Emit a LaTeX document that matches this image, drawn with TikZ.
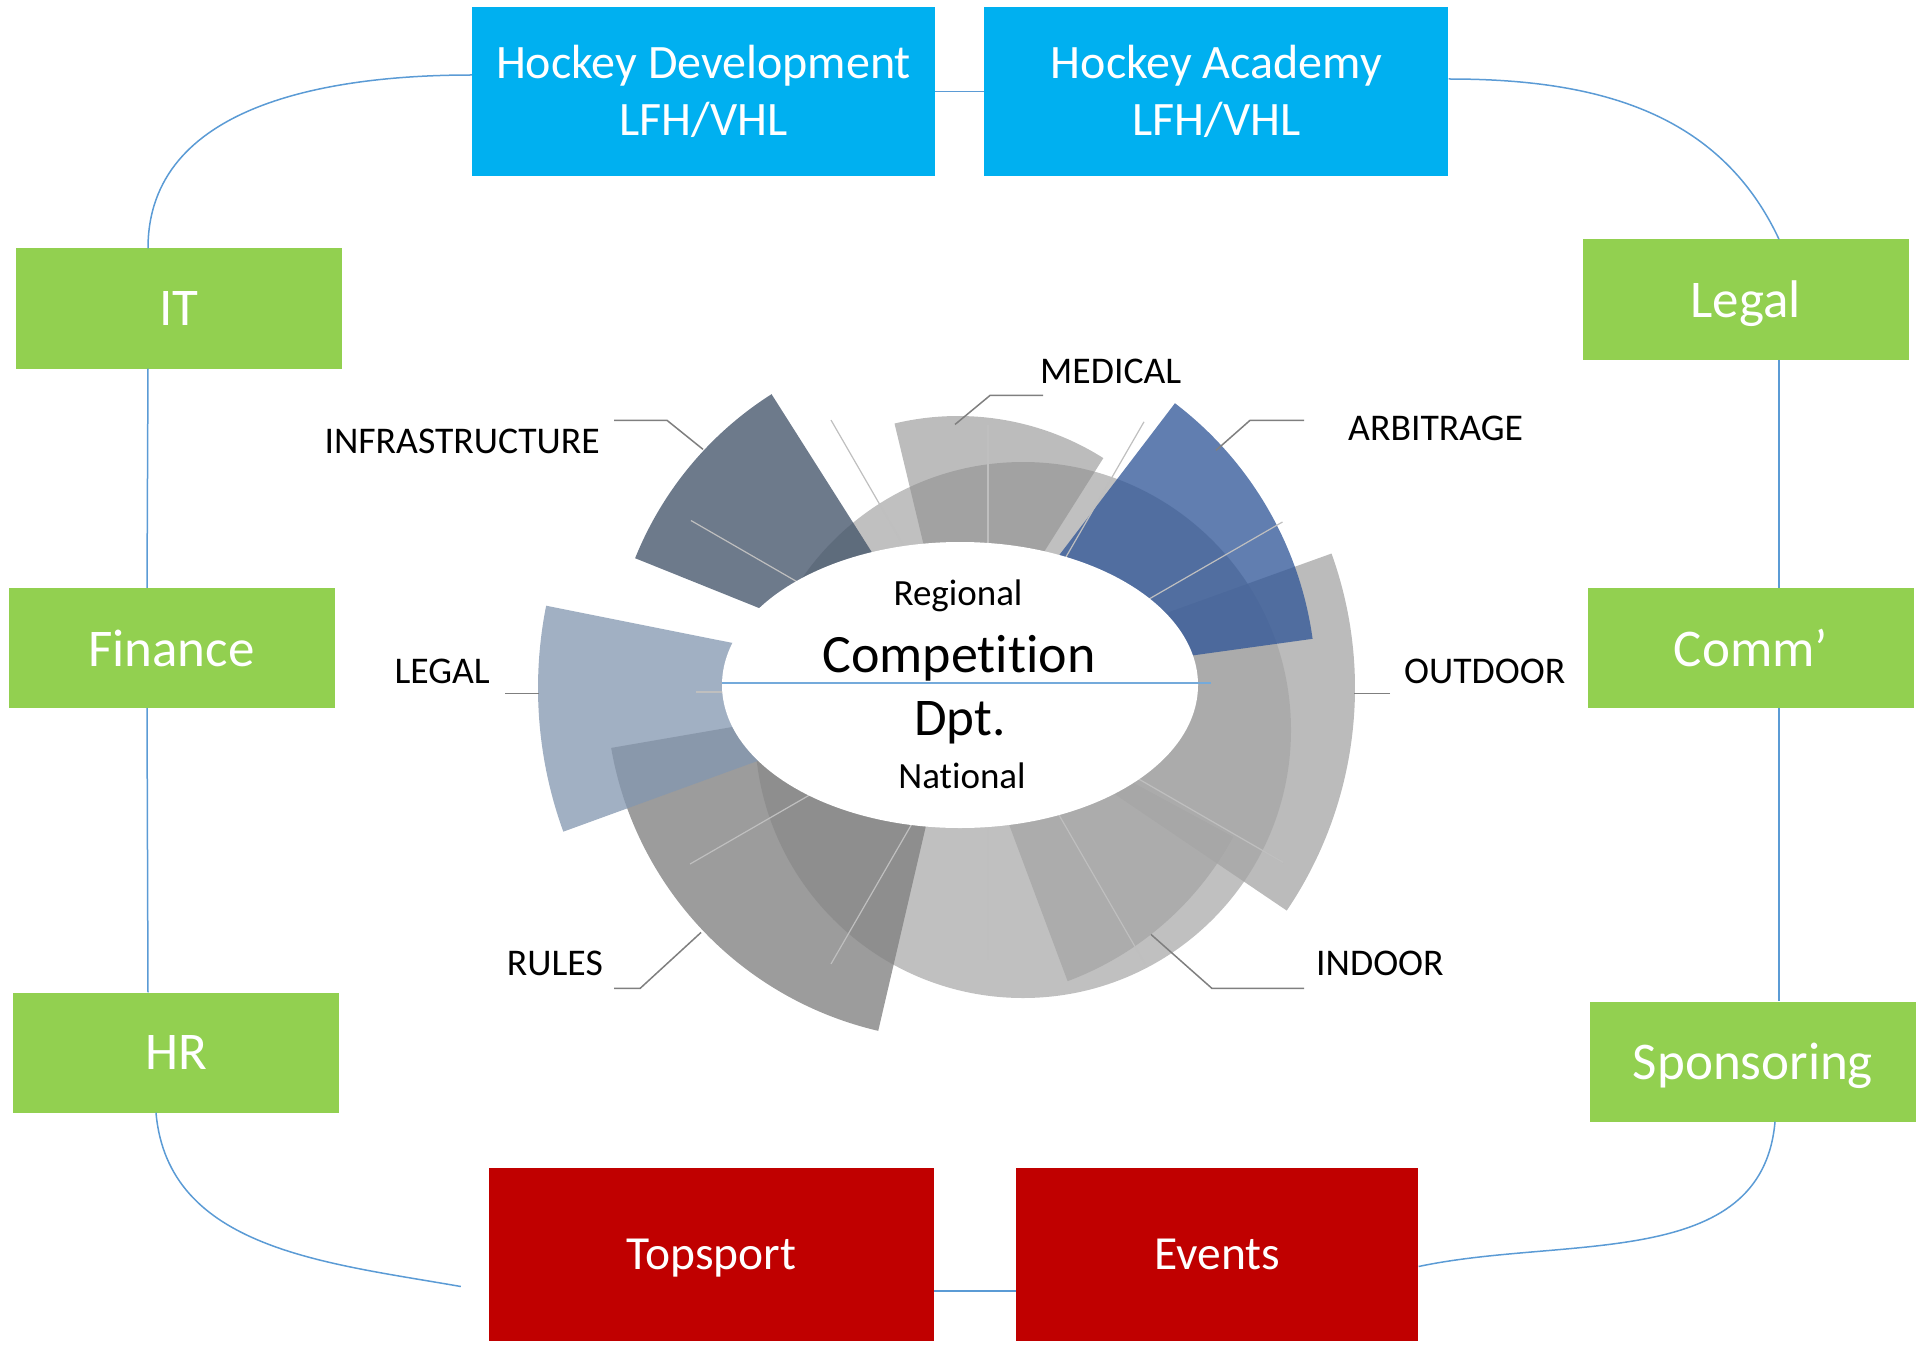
\documentclass[tikz,border=0pt]{standalone}
\usepackage{fontspec}
\setmainfont{Carlito}[Ligatures=CommonOff]
\usetikzlibrary{shapes.geometric,positioning}

\definecolor{devblue}{HTML}{00B0F0}
\definecolor{supgreen}{HTML}{92D050}
\definecolor{opsred}{HTML}{C00000}
\definecolor{linkblue}{HTML}{5B9BD5}
\definecolor{leadgray}{HTML}{7F7F7F}
\definecolor{spokegray}{HTML}{BFBFBF}
\definecolor{midgray}{HTML}{A5A5A5}
\definecolor{medgray}{HTML}{909090}
\definecolor{rulegray}{HTML}{808080}
\definecolor{slate}{HTML}{44546A}
\definecolor{steel}{HTML}{8497B0}
\definecolor{navy}{HTML}{2F5597}

\begin{document}
\begin{tikzpicture}[
            x=1pt, y=1pt,
            deptbox/.style={rectangle, inner sep=0pt, text=white, align=center},
            devbox/.style={deptbox, fill=devblue, minimum width=463pt, minimum height=169pt, font=\fontsize{48}{57}\selectfont},
            supbox/.style={deptbox, fill=supgreen, minimum width=326pt, minimum height=120pt, text depth=0pt, font=\fontsize{53}{63}\selectfont},
            opsbox/.style={deptbox, fill=opsred, minimum height=173pt, text depth=0pt, font=\fontsize{47.5}{57}\selectfont},
            link/.style={draw=linkblue, line width=1.5pt},
            leader/.style={draw=leadgray, line width=1.5pt},
            spoke/.style={draw=spokegray, line width=1.2pt},
            chartlabel/.style={inner sep=0pt, font=\fontsize{37.7}{45}\selectfont},
            hubshape/.style={ellipse, fill=white, minimum width=476pt, minimum height=286pt, inner sep=0pt}
            ]
            \useasboundingbox (0,0) rectangle (1921,-1348);

            % Chart: disk and wedges
            \coordinate (ctr) at (958,-688);
            \coordinate (diskc) at (1023,-730);
            \coordinate (axis) at (988,-692);
            \fill[fill=midgray, fill opacity=0.7] (diskc) circle[radius=268pt];
            \foreach \sa/\ea/\rad/\col/\op in {-34.1/19.8/397/midgray/0.76, -69.5/-28.4/313/midgray/0.75,
                    57.7/103.5/272/medgray/0.6, 189.8/256.9/352/rulegray/0.78, 168.7/200/420/steel/0.76,
                    122.4/158.1/348/slate/0.78, 7.9/52.7/358/navy/0.76}
                \fill[fill=\col, fill opacity=\op] (ctr) -- ++(\sa:\rad pt) arc[start angle=\sa, end angle=\ea, radius=\rad pt] -- cycle;
            \foreach \ang/\len in {90/267, 60/312, 30/340, -30/341, -60/314, -90/268, -120/314, -150/344, 180/292, 150/343, 120/314}
                \draw[spoke] (axis) -- ++(\ang:\len pt);

            % Centre
            \node[hubshape] (hub) at (960,-685) {};
            \draw[linkblue!85, line width=1.5pt] ([yshift=2pt]hub.west) -- ++(489,0);
            \node[anchor=base, inner sep=0pt, font=\fontsize{37}{44}\selectfont] (regional) at (958,-605) {Regional};
            \node[anchor=base, inner sep=0pt, font=\fontsize{54}{64}\selectfont] (competition) at (959,-672) {Competition};
            \node[anchor=base, inner sep=0pt, font=\fontsize{53}{63}\selectfont] (dpt) at (960,-735) {Dpt.};
            \node[anchor=base, inner sep=0pt, font=\fontsize{37}{44}\selectfont] (national) at (962,-788) {National};

            % Chart labels
            \node[chartlabel, anchor=base east] (infralbl) at (600,-453) {INFRASTRUCTURE};
            \node[chartlabel, anchor=base west] (medlbl) at (1040,-383) {MEDICAL};
            \node[chartlabel, anchor=base west] (arblbl) at (1348,-440) {ARBITRAGE};
            \node[chartlabel, anchor=base west] (outlbl) at (1404,-683) {OUTDOOR};
            \node[chartlabel, anchor=base east] (legallbl) at (490,-683) {LEGAL};
            \node[chartlabel, anchor=base east] (ruleslbl) at (603,-975) {RULES};
            \node[chartlabel, anchor=base west] (indlbl) at (1316,-975) {INDOOR};
            \draw[leader] (infralbl.north east) ++(14,8) -- ++(53,0) -- ++(36,-29);
            \draw[leader] (medlbl.south west) ++(3,-12) -- ++(-53,0) -- ++(-35,-29);
            \draw[leader] (arblbl.north west) ++(-44,-5) -- ++(-54,0) -- ++(-34,-30);
            \draw[leader] (outlbl.south west) ++(-14,-10) -- ++(-36,0);
            \draw[leader] (legallbl.south east) ++(15,-10) -- ++(34,0);
            \draw[leader] (ruleslbl.south east) ++(11,-13) -- ++(26,0) -- ++(61,56);
            \draw[leader] (indlbl.south west) ++(-12,-13) -- ++(-92,0) -- ++(-61,54);

            % Departments
            \node[devbox] (dev) at (703.5,-91.5) {Hockey Development\\LFH/VHL};
            \node[devbox, minimum width=464pt, right=49pt of dev] (acad) {Hockey Academy\\LFH/VHL};
            \node[supbox] (it) at (179,-308.5) {IT};
            \node[supbox] (fin) at (171.5,-648) {Finance};
            \node[supbox] (hr) at (176,-1052.5) {HR};
            \node[supbox] (legal) at (1745.5,-299.5) {Legal};
            \node[supbox] (comm) at (1751,-648) {Comm’};
            \node[supbox] (spons) at (1753,-1061.5) {Sponsoring};
            \node[opsbox, minimum width=445pt] (topsp) at (711.5,-1254.5) {Topsport};
            \node[opsbox, minimum width=402pt, right=82pt of topsp] (events) {Events};

            % Links
            \draw[link] ([yshift=16.5pt]dev.west) to[out=180, in=90] ([xshift=-31pt]it.north);
            \draw[link] (dev.east) -- (acad.west);
            \draw[link] ([yshift=12.5pt]acad.east) to[out=0, in=115] ([xshift=33.5pt]legal.north);
            \draw[link] ([xshift=-31pt]it.south) -- ([xshift=-24.5pt]fin.north);
            \draw[link] ([xshift=-24.5pt]fin.south) -- ([xshift=-28pt]hr.north);
            \draw[link] ([xshift=-20pt]hr.south) to[out=-85, in=170] ([shift={(-28pt,-32pt)}]topsp.west);
            \draw[link] ([yshift=-36.5pt]topsp.east) -- ([yshift=-36.5pt]events.west);
            \draw[link] ([xshift=22pt]spons.south) to[out=-95, in=12] ([yshift=-12pt]events.east);
            \draw[link] ([xshift=33.5pt]legal.south) -- ([xshift=28pt]comm.north);
            \draw[link] ([xshift=28pt]comm.south) -- ([xshift=26pt]spons.north);

        \end{tikzpicture}
\end{document}
